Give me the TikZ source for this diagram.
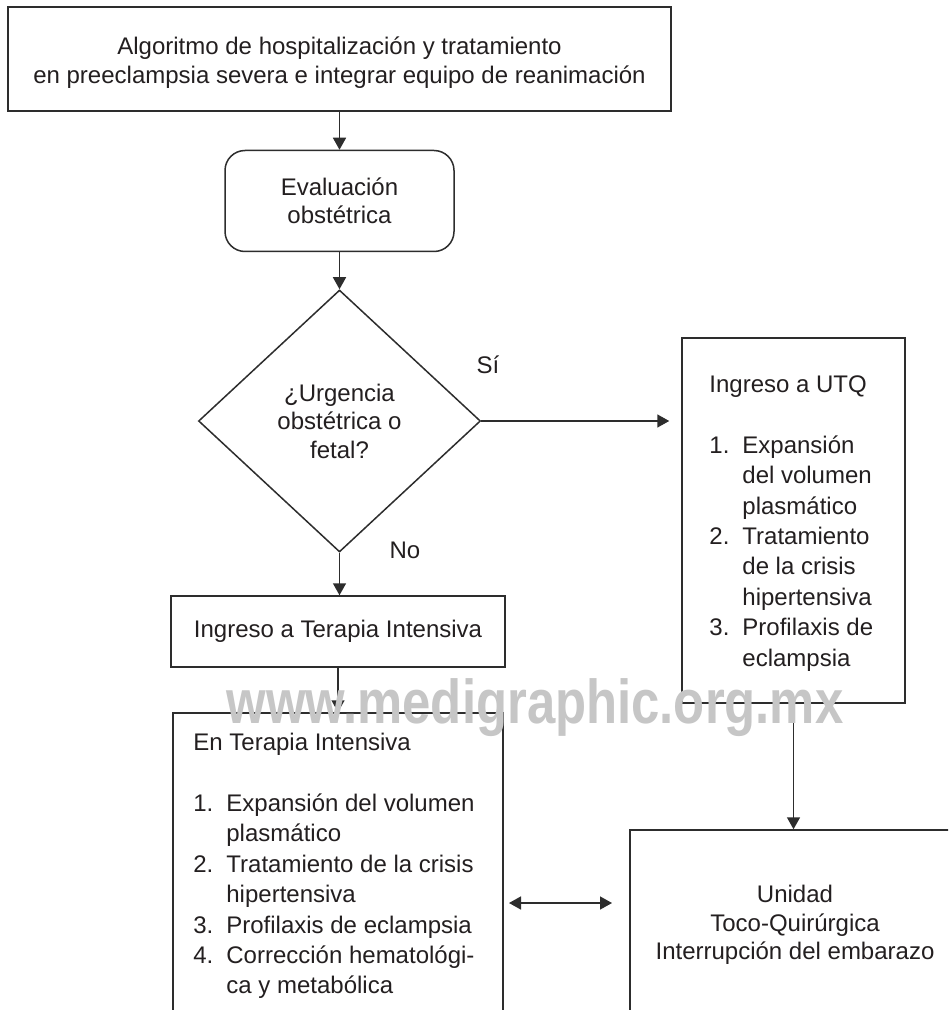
\documentclass[tikz,border=0pt]{standalone}
\usepackage{fontspec}
\setmainfont{Liberation Sans}
\usetikzlibrary{shapes.geometric,arrows.meta}
\definecolor{lc}{RGB}{45,45,45}
\definecolor{tc}{RGB}{35,31,32}
\definecolor{wm}{RGB}{198,198,198}
\begin{document}
\begin{tikzpicture}[x=0.5pt,y=-0.5pt,
  box/.style={draw=lc,line width=0.75pt,inner sep=0pt,align=center,text=tc},
  arr/.style={draw=lc,line width=0.75pt,-{Triangle[length=6pt,width=6.5pt]}},
  dblarr/.style={draw=lc,line width=0.75pt,{Triangle[length=6pt,width=6.5pt]}-{Triangle[length=6pt,width=6.5pt]}},
  txt/.style={text=tc,inner sep=0pt,align=left},
  every node/.append style={font=\fontsize{12}{15.2}\selectfont}]
\useasboundingbox (0,0) rectangle (948,1010);
\clip (0,0) rectangle (948,1010);
\fill[white] (0,0) rectangle (948,1010);

\node[box,minimum width=331.5pt,minimum height=52pt] (top) at (339.5,59) {};
\node[txt,align=center,font=\fontsize{12}{14.5}\selectfont] (topt) at (339.5,63)
  {Algoritmo de hospitalización y tratamiento\\en preeclampsia severa e integrar equipo de reanimación};
\node[box,rounded corners=10pt,minimum width=114.5pt,minimum height=50.5pt,font=\fontsize{12}{14}\selectfont] (eval) at (339.5,201)
  {Evaluación\\obstétrica};
\node[box,diamond,minimum width=141pt,minimum height=131pt,font=\fontsize{12}{14.25}\selectfont] (dia) at (339.5,421)
  {¿Urgencia\\obstétrica o\\fetal?};

\node[txt] (si) at (488,365) {Sí};
\node[txt] (no) at (405,550) {No};

\node[box,minimum width=111.5pt,minimum height=182.5pt] (utq) at (793.5,520.5) {};
\node[txt,anchor=west] (utqt) at (709,523.5)
  {Ingreso a UTQ\\[15.2pt]
   \makebox[16.5pt][l]{1.}Expansión\\
   \hspace*{16.5pt}del volumen\\
   \hspace*{16.5pt}plasmático\\
   \makebox[16.5pt][l]{2.}Tratamiento\\
   \hspace*{16.5pt}de la crisis\\
   \hspace*{16.5pt}hipertensiva\\
   \makebox[16.5pt][l]{3.}Profilaxis de\\
   \hspace*{16.5pt}eclampsia};

\node[box,minimum width=167pt,minimum height=35.5pt] (ingt) at (338,631.5) {Ingreso a Terapia Intensiva};

\node[box,minimum width=165pt,minimum height=170pt] (ent) at (338,883) {};
\node[txt,anchor=west] (entt) at (193,866)
  {En Terapia Intensiva\\[15.2pt]
   \makebox[16.5pt][l]{1.}Expansión del volumen\\
   \hspace*{16.5pt}plasmático\\
   \makebox[16.5pt][l]{2.}Tratamiento de la crisis\\
   \hspace*{16.5pt}hipertensiva\\
   \makebox[16.5pt][l]{3.}Profilaxis de eclampsia\\
   \makebox[16.5pt][l]{4.}Corrección hematológi-\\
   \hspace*{16.5pt}ca y metabólica};

\node[box,minimum width=170pt,minimum height=120pt] (uni) at (800,950) {};
\node[txt,align=center,font=\fontsize{12}{14.25}\selectfont] (unit) at (795,925)
  {Unidad\\Toco-Quirúrgica\\Interrupción del embarazo};

\draw[arr] (top) -- (eval);
\draw[arr] (eval) -- (dia);
\draw[arr] (dia.south) -- (dia.south |- ingt.north);
\draw[arr] (ingt) -- (ent);
\draw[arr,shorten >=6pt] (dia.east) -- (dia.east -| utq.west);
\draw[arr] (utq.south) -- (utq.south |- uni.north);
\coordinate (da1) at (509,903);
\coordinate (da2) at (612,903);
\draw[dblarr] (da1) -- (da2);

\node[text=wm,inner sep=0pt,anchor=base,font=\fontsize{31}{31}\selectfont\bfseries] (wmk) at (535,723)
  {\scalebox{0.82}[1]{www.medigraphic.org.mx}};
\end{tikzpicture}
\end{document}
